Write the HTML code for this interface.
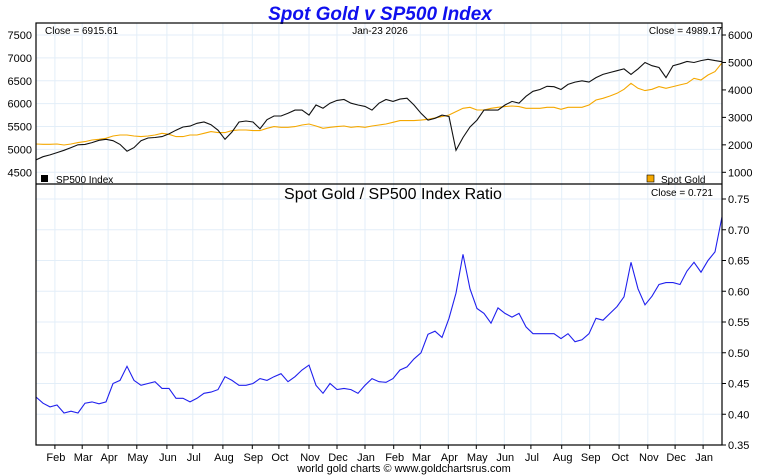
<!DOCTYPE html>
<html><head><meta charset="utf-8"><style>
html,body{margin:0;padding:0;background:#fff;}
svg{display:block;font-family:"Liberation Sans",sans-serif;}
</style></head><body>
<svg id="c" width="760" height="475" viewBox="0 0 760 475">
<text x="380" y="20" text-anchor="middle" font-size="19" font-weight="bold" font-style="italic" fill="#1010ee">Spot Gold v SP500 Index</text>
<g id="grid"></g>
<g id="marks"></g>
<rect x="36" y="23" width="686" height="422" fill="none" stroke="#000" stroke-width="1.2"/>
<line x1="36" y1="184" x2="722" y2="184" stroke="#000" stroke-width="1.2"/>
<g id="axes" font-size="11" fill="#000"></g>
<text x="45" y="34" font-size="10">Close = 6915.61</text>
<text x="380" y="34" font-size="10" text-anchor="middle">Jan-23  2026</text>
<text x="722" y="34" font-size="10" text-anchor="end">Close = 4989.17</text>
<rect x="41" y="175" width="7" height="7" fill="#000"/>
<text x="56" y="183" font-size="10">SP500 Index</text>
<rect x="647" y="175" width="7" height="7" fill="#f5a800" stroke="#000" stroke-width="0.6"/>
<text x="661" y="183" font-size="10">Spot Gold</text>
<text x="393" y="199" font-size="16" text-anchor="middle">Spot Gold  /  SP500 Index Ratio</text>
<text x="713" y="196" font-size="10" text-anchor="end">Close = 0.721</text>
<text x="404" y="472" font-size="11" text-anchor="middle">world gold charts © www.goldchartsrus.com</text>
</svg>
<script>
const sp500 = [4770,4840,4880,4930,4980,5040,5100,5110,5150,5200,5220,5190,5110,4960,5040,5190,5250,5260,5280,5340,5420,5490,5510,5570,5600,5540,5420,5220,5380,5600,5620,5600,5450,5650,5730,5730,5790,5860,5860,5750,5970,5900,6010,6070,6090,6010,5970,5940,5860,
6010,6090,6050,6100,6120,5970,5790,5640,5680,5750,
5720,4980,5260,5490,5640,5860,5860,5860,5970,6050,
6010,6160,6270,6310,6380,6370,6310,6420,6470,6500,
6470,6570,6640,6680,6720,6760,6640,6760,6900,6830,
6790,6570,6830,6870,6920,6900,6940,6970,6940,6916];
const gold = [2032,2020,2020,2032,1995,2032,2080,2117,2178,2202,2238,2323,2360,2360,2323,2299,2323,2360,2420,2384,2299,2299,2360,2360,2420,2481,2445,2445,2518,2542,2542,2518,2518,2602,2663,2639,2639,2663,2724,2760,2687,2602,2639,2663,2687,2639,2663,2639,2687,
2724,2760,2820,2882,2882,2882,2900,2930,2980,3027,
3088,3209,3331,3367,3270,3270,3331,3367,3392,3416,
3392,3331,3331,3331,3367,3367,3294,3367,3367,3367,
3452,3634,3695,3780,3877,4023,4241,4059,3974,4023,
4120,4059,4120,4181,4241,4423,4363,4545,4666,4989];
const ratio = [0.428,0.418,0.412,0.415,0.402,0.405,0.402,0.418,0.42,0.417,0.42,0.45,0.455,0.478,0.455,0.447,0.45,0.453,0.442,0.442,0.426,0.426,0.42,0.426,0.434,0.436,0.44,0.461,0.455,0.447,0.447,0.45,0.458,0.455,0.461,0.466,0.453,0.461,0.472,0.48,0.447,0.434,0.45,0.44,0.442,0.44,0.434,0.447,0.458,
0.453,0.452,0.458,0.472,0.477,0.49,0.5,0.53,0.535,0.525,
0.556,0.597,0.66,0.604,0.572,0.564,0.548,0.573,0.564,0.558,
0.564,0.542,0.531,0.531,0.531,0.531,0.523,0.531,0.518,0.521,
0.531,0.556,0.553,0.564,0.575,0.591,0.647,0.604,0.578,0.592,
0.611,0.614,0.614,0.611,0.633,0.647,0.631,0.65,0.664,0.721];
const spTicks = [7500,7000,6500,6000,5500,5000,4500];
const goldTicks = [6000,5000,4000,3000,2000,1000];
const ratioTicks = [0.75,0.70,0.65,0.60,0.55,0.50,0.45,0.40,0.35];
const monthLabels = ["Feb","Mar","Apr","May","Jun","Jul","Aug","Sep","Oct","Nov","Dec","Jan","Feb","Mar","Apr","May","Jun","Jul","Aug","Sep","Oct","Nov","Dec","Jan"];
const monthIdx = [2.7,6.6,10.3,14.4,18.7,22.4,26.7,30.9,34.7,39,43,47,51.1,54.9,58.9,62.9,66.9,70.7,75.1,79.1,83.3,87.4,91.3,95.3];

const NS="http://www.w3.org/2000/svg";
const X0=36,X1=722;
const xS=i=>X0+i*(X1-X0)/(sp500.length-1);
const ySP=v=>172.3-(v-4500)*137.3/3000;
const yG=v=>172.3-(v-1000)*137.3/5000;
const yR=v=>445-(v-0.35)*246/0.40;
function mk(tag,attrs,parent){const e=document.createElementNS(NS,tag);for(const k in attrs)e.setAttribute(k,attrs[k]);parent.appendChild(e);return e;}
const grid=document.getElementById('grid'),marks=document.getElementById('marks'),axes=document.getElementById('axes');
spTicks.forEach(v=>{const y=ySP(v);
 const l=mk('line',{x1:X0,x2:X1,y1:y,y2:y,stroke:'#e3eef8','stroke-width':1},grid);
 
 
 const t=mk('text',{x:32,y:y+4,'text-anchor':'end'},axes);t.textContent=v;
 
 
});
goldTicks.forEach(v=>{const y=yG(v);
 const k=mk('line',{x1:X1,x2:X1+4,y1:y,y2:y,stroke:'#000'},axes);
 
 
 const t=mk('text',{x:728,y:y+4},axes);t.textContent=v;
 
 
});
ratioTicks.forEach(v=>{const y=yR(v);
 const l=mk('line',{x1:X0,x2:X1,y1:y,y2:y,stroke:'#e3eef8','stroke-width':1},grid);
 
 
 const k=mk('line',{x1:X1,x2:X1+4,y1:y,y2:y,stroke:'#000'},axes);
 
 
 const t=mk('text',{x:728,y:y+4},axes);t.textContent=v.toFixed(2);
 
 
});
monthIdx.forEach((m,i)=>{const x=xS(m);
 const l=mk('line',{x1:x,x2:x,y1:23,y2:445,stroke:'#e3eef8','stroke-width':1},grid);
 
 
 const k=mk('line',{x1:x,x2:x,y1:445,y2:449,stroke:'#000'},axes);
 
 
 const t=mk('text',{x:x+1,y:461,'text-anchor':'middle'},axes);t.textContent=monthLabels[i];
 
 
});
function line(arr,yf,color,w){return arr.map((v,i)=>(i?'L':'M')+xS(i).toFixed(1)+' '+yf(v).toFixed(1)).join('');}
const pg=mk('path',{d:line(gold,yG),fill:'none',stroke:'#f5a800','stroke-width':1.1},marks);


const ps=mk('path',{d:line(sp500,ySP),fill:'none',stroke:'#111','stroke-width':1.1},marks);


const pr=mk('path',{d:line(ratio,yR),fill:'none',stroke:'#2020ee','stroke-width':1.1},marks);


</script>
</body></html>
